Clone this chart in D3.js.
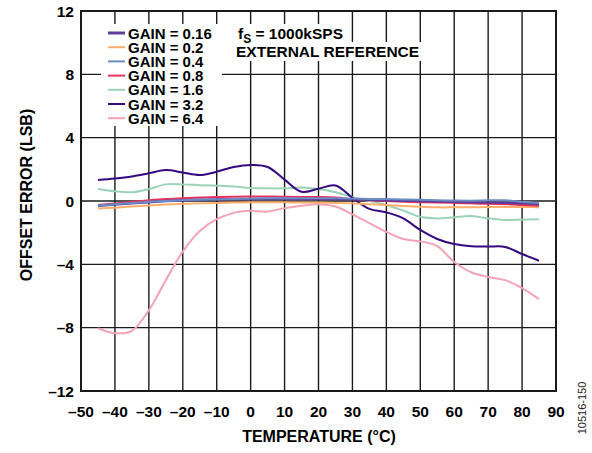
<!DOCTYPE html>
<html><head><meta charset="utf-8">
<script src="https://cdn.jsdelivr.net/npm/d3@7"></script>
<style>body{margin:0;background:#fff}svg{display:block}text{font-family:"Liberation Sans",Arial,sans-serif}</style>
</head><body>
<svg id="c" width="592" height="453"></svg>
<script>
const temps = [-45,-40,-35,-30,-25,-20,-15,-10,-5,0,5,10,15,20,25,30,35,40,45,50,55,60,65,70,75,80,85];
const gain016 = [-0.3,-0.22,-0.15,-0.08,0.0,0.05,0.08,0.1,0.12,0.13,0.13,0.13,0.12,0.12,0.12,0.1,0.08,0.05,0.02,0.0,-0.03,-0.05,-0.08,-0.1,-0.12,-0.15,-0.2];
const gain02  = [-0.48,-0.42,-0.35,-0.28,-0.22,-0.18,-0.15,-0.13,-0.1,-0.08,-0.08,-0.08,-0.1,-0.1,-0.12,-0.15,-0.2,-0.25,-0.32,-0.36,-0.4,-0.4,-0.4,-0.38,-0.38,-0.38,-0.4];
const gain04  = [-0.28,-0.2,-0.12,-0.05,0.0,0.05,0.08,0.1,0.12,0.15,0.17,0.18,0.18,0.18,0.17,0.15,0.13,0.12,0.1,0.08,0.05,0.03,0.02,0.04,0.05,-0.05,-0.13];
const gain08  = [-0.25,-0.15,-0.05,0.05,0.12,0.18,0.22,0.25,0.27,0.28,0.28,0.27,0.26,0.25,0.22,0.12,0.05,0.0,-0.05,-0.08,-0.1,-0.12,-0.15,-0.18,-0.2,-0.25,-0.3];
const gain16  = [0.76,0.62,0.56,0.75,1.05,1.05,1.0,0.97,0.92,0.82,0.8,0.8,0.85,0.76,0.55,0.25,0.0,-0.25,-0.6,-1.0,-1.1,-1.02,-0.95,-1.1,-1.2,-1.18,-1.16];
const gain32  = [1.33,1.42,1.55,1.75,1.96,1.8,1.64,1.85,2.15,2.28,2.15,1.35,0.58,0.78,0.98,0.2,-0.5,-0.72,-1.1,-1.83,-2.4,-2.72,-2.86,-2.88,-2.9,-3.35,-3.77];
const gain64  = [-8.04,-8.35,-8.2,-6.9,-5.0,-3.2,-1.9,-1.15,-0.75,-0.62,-0.67,-0.45,-0.3,-0.2,-0.35,-0.85,-1.4,-1.95,-2.4,-2.55,-2.85,-3.85,-4.5,-4.8,-5.0,-5.5,-6.2];
const seriesNames = ["GAIN = 0.16","GAIN = 0.2","GAIN = 0.4","GAIN = 0.8","GAIN = 1.6","GAIN = 3.2","GAIN = 6.4"];
const seriesColors = ["#5e3c99","#fdae6b","#6b8cc4","#e8315b","#9ad3b8","#35097f","#f5a3b3"];
const seriesValues = [gain016,gain02,gain04,gain08,gain16,gain32,gain64];
const xTicks = [-50,-40,-30,-20,-10,0,10,20,30,40,50,60,70,80,90];
const xTickLabels = ["–50","–40","–30","–20","–10","0","10","20","30","40","50","60","70","80","90"];
const yTicks = [12,8,4,0,-4,-8,-12];
const yTickLabels = ["12","8","4","0","–4","–8","–12"];

const svg = d3.select("#c");
const L=81,R=556,T=11,B=391;
const x = d3.scaleLinear().domain([-50,90]).range([L,R]);
const y = d3.scaleLinear().domain([-12,12]).range([B,T]);

// grid
const g = svg.append("g");
g.selectAll(".vg").data(xTicks).join("line")
  .attr("x1",d=>x(d)).attr("x2",d=>x(d)).attr("y1",T).attr("y2",B)
  .attr("stroke","#1a1a1a").attr("stroke-width",1.4);
g.selectAll(".hg").data(yTicks).join("line")
  .attr("y1",d=>y(d)).attr("y2",d=>y(d)).attr("x1",L).attr("x2",R)
  .attr("stroke","#1a1a1a").attr("stroke-width",1.4);

// legend white box
svg.append("rect").attr("x",101).attr("y",24).attr("width",121).attr("height",102).attr("fill","#fff");

const ann = svg.append("g");
const t1 = ann.append("text").attr("x",238).attr("y",39).attr("font-size",15.5).attr("font-weight","bold");
t1.append("tspan").text("f");
t1.append("tspan").attr("font-size",12).attr("dy",4).text("S");
t1.append("tspan").attr("dy",-4).text(" = 1000kSPS");
const t2 = ann.append("text").attr("x",236).attr("y",57).attr("font-size",15.5).attr("font-weight","bold").text("EXTERNAL REFERENCE");
[t1,t2].forEach(t=>{const b=t.node().getBBox();
  ann.insert("rect","text").attr("x",b.x-3).attr("y",b.y-1).attr("width",b.width+5).attr("height",b.height+2).attr("fill","#fff");});

// frame
svg.append("rect").attr("x",L).attr("y",T).attr("width",R-L).attr("height",B-T)
  .attr("fill","none").attr("stroke","#1a1a1a").attr("stroke-width",2);

// lines
const line = d3.line().x((d,i)=>x(temps[i])).y(d=>y(d)).curve(d3.curveCatmullRom.alpha(0.5));
const drawOrder=[4,5,6,1,3,0,2];
drawOrder.forEach(i=>{
  svg.append("path").datum(seriesValues[i]).attr("d",line)
    .attr("fill","none").attr("stroke",seriesColors[i]).attr("stroke-width",i===0?2.4:2);
});

// legend
const lg = svg.append("g");
seriesNames.forEach((n,i)=>{
  const yy = 33 + i*14.2;
  lg.append("line").attr("x1",108).attr("x2",125).attr("y1",yy).attr("y2",yy)
    .attr("stroke",seriesColors[i]).attr("stroke-width",i===0?3:2);
  lg.append("text").attr("x",128).attr("y",yy+5.5).attr("font-size",15).attr("font-weight","bold").text(n);
});

// tick labels
svg.append("g").selectAll("text").data(xTicks).join("text")
  .attr("x",d=>x(d)).attr("y",417).attr("text-anchor","middle")
  .attr("font-size",15.5).attr("font-weight","bold").text((d,i)=>xTickLabels[i]);
svg.append("g").selectAll("text").data(yTicks).join("text")
  .attr("x",74).attr("y",d=>y(d)+5.5).attr("text-anchor","end")
  .attr("font-size",15.5).attr("font-weight","bold").text((d,i)=>yTickLabels[i]);

// axis titles
svg.append("text").attr("x",319).attr("y",442).attr("text-anchor","middle")
  .attr("font-size",16).attr("font-weight","bold").text("TEMPERATURE (°C)");
svg.append("text").attr("transform","translate(32,195) rotate(-90)").attr("text-anchor","middle")
  .attr("font-size",16).attr("font-weight","bold").text("OFFSET ERROR (LSB)");
svg.append("text").attr("transform","translate(586,408) rotate(-90)").attr("text-anchor","middle")
  .attr("font-size",11).attr("fill","#222").text("10516-150");
</script>
</body></html>
